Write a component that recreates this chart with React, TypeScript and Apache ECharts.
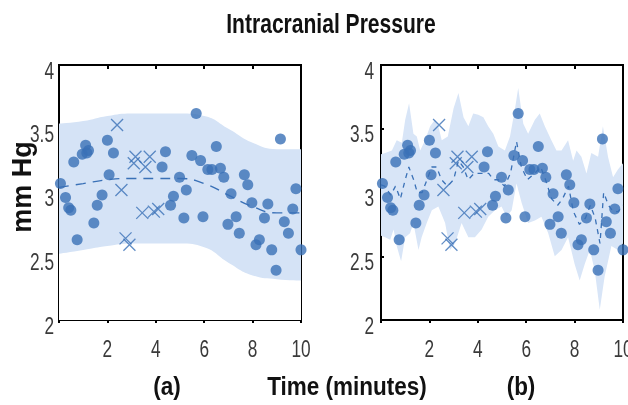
import React, { useEffect, useRef } from "react";
import * as echarts from "echarts";

// Observed data points (same in both panels)
const dotX = [0.06, 0.27, 0.4, 0.49, 0.61, 0.75, 0.96, 1.1, 1.15, 1.22, 1.44, 1.58, 1.78, 2.0, 2.07, 2.25, 4.26, 4.4, 4.61, 4.73, 4.98, 5.16, 5.26, 5.49, 5.67, 5.85, 5.95, 6.15, 6.32, 6.5, 6.67, 6.81, 6.98, 7.11, 7.32, 7.45, 7.66, 7.8, 7.97, 8.14, 8.28, 8.49, 8.63, 8.79, 8.97, 9.15, 9.31, 9.48, 9.66, 9.79, 10.0];
const dotY = [3.07, 2.96, 2.88, 2.86, 3.24, 2.63, 3.30, 3.37, 3.31, 3.33, 2.76, 2.90, 2.98, 3.41, 3.14, 3.31, 3.20, 3.32, 2.90, 2.97, 3.12, 2.80, 3.02, 3.29, 3.62, 3.25, 2.81, 3.18, 3.18, 3.36, 3.19, 3.12, 2.75, 2.99, 2.81, 2.68, 3.14, 3.06, 2.92, 2.59, 2.63, 2.80, 2.91, 2.55, 2.39, 3.42, 2.77, 2.68, 2.87, 3.03, 2.55];

// Crosses (held-out points)
const crossX = [2.4, 2.58, 2.75, 2.91, 3.09, 3.16, 3.44, 3.57, 3.75, 3.92, 4.1];
const crossY = [3.53, 3.02, 2.64, 2.59, 3.23, 3.28, 2.84, 3.20, 3.28, 2.85, 2.87];

// Panel (a): smooth fit
const fitAX = [0, 1, 2, 3, 4, 5, 6, 7, 8, 9, 10];
const fitAMean = [3.04, 3.07, 3.10, 3.11, 3.11, 3.11, 3.07, 2.98, 2.89, 2.84, 2.84];
const fitAUpper = [3.54, 3.56, 3.60, 3.62, 3.62, 3.62, 3.60, 3.50, 3.39, 3.34, 3.34];
const fitALower = [2.52, 2.55, 2.58, 2.60, 2.60, 2.60, 2.57, 2.45, 2.35, 2.32, 2.31];

// Panel (b): jagged fit
const bandBUpX = [0.0, 0.17, 0.45, 0.65, 0.86, 1.0, 1.16, 1.34, 1.48, 1.62, 1.82, 2.03, 2.23, 2.37, 2.51, 2.76, 3.0, 3.2, 3.41, 3.61, 3.81, 4.02, 4.23, 4.43, 4.64, 4.85, 5.12, 5.33, 5.53, 5.67, 5.88, 6.08, 6.36, 6.56, 6.77, 7.04, 7.25, 7.46, 7.73, 7.94, 8.08, 8.28, 8.49, 8.69, 8.97, 9.17, 9.38, 9.59, 9.79, 10.0];
const bandBUp = [3.30, 3.31, 3.33, 3.41, 3.39, 3.57, 3.70, 3.46, 3.44, 3.33, 3.41, 3.52, 3.57, 3.52, 3.41, 3.44, 3.66, 3.78, 3.59, 3.52, 3.62, 3.61, 3.59, 3.52, 3.46, 3.36, 3.33, 3.44, 3.65, 3.82, 3.54, 3.46, 3.57, 3.62, 3.52, 3.41, 3.33, 3.33, 3.41, 3.25, 3.33, 3.28, 3.15, 3.31, 3.28, 3.52, 3.28, 3.12, 3.18, 3.23];
const bandBLoX = [0.0, 0.17, 0.38, 0.52, 0.65, 0.83, 1.0, 1.2, 1.34, 1.55, 1.68, 1.89, 2.1, 2.37, 2.65, 2.85, 3.06, 3.33, 3.61, 3.88, 4.16, 4.43, 4.71, 4.98, 5.19, 5.4, 5.6, 5.81, 6.08, 6.36, 6.63, 6.91, 7.18, 7.46, 7.73, 8.0, 8.21, 8.42, 8.63, 8.83, 9.04, 9.24, 9.52, 9.79, 10.0];
const bandBLo = [2.66, 2.65, 2.63, 2.71, 2.58, 2.46, 2.65, 2.68, 2.76, 2.55, 2.65, 2.76, 2.86, 2.89, 2.76, 2.55, 2.60, 2.76, 2.65, 2.65, 2.71, 2.81, 2.86, 2.89, 2.81, 2.86, 3.07, 2.92, 2.76, 2.78, 2.81, 2.68, 2.50, 2.55, 2.65, 2.44, 2.31, 2.44, 2.55, 2.39, 2.08, 2.34, 2.58, 2.55, 2.60];
const meanBX = [0.0, 0.15, 0.4, 0.6, 0.8, 1.0, 1.15, 1.35, 1.5, 1.7, 1.9, 2.1, 2.3, 2.5, 2.75, 3.0, 3.2, 3.4, 3.6, 3.85, 4.05, 4.25, 4.45, 4.65, 4.85, 5.1, 5.35, 5.6, 5.8, 6.05, 6.35, 6.6, 6.8, 7.05, 7.3, 7.5, 7.75, 7.95, 8.2, 8.45, 8.65, 8.85, 9.05, 9.2, 9.4, 9.6, 9.8, 10.0];
const meanBY = [3.06, 3.05, 2.98, 3.05, 2.95, 3.10, 3.20, 3.10, 3.00, 3.00, 3.10, 3.20, 3.20, 3.10, 3.05, 3.10, 3.25, 3.20, 3.10, 3.15, 3.15, 3.15, 3.15, 3.10, 3.10, 3.05, 3.15, 3.40, 3.20, 3.10, 3.15, 3.20, 3.10, 2.95, 2.90, 2.95, 3.05, 2.85, 2.75, 2.80, 2.90, 2.80, 2.60, 3.00, 2.90, 2.85, 2.85, 2.90];

// Tick labels
const xTickLabels = [2, 4, 6, 8, 10];
const yTickLabels = [2, 2.5, 3, 3.5, 4];

const yRange = { min: 2, max: 4, interval: 0.5 };
const xRange = { min: 0, max: 10, interval: 2 };

const BLUE = "#3a71b7";
const BAND = "#d5e3f6";
const BANDB = "#d8e5f7";
const SANS = "'Liberation Sans', Arial, sans-serif";

const pairs = (xs: number[], ys: number[]) => xs.map((x, i) => [x, ys[i]]);

export default function App() {
  const ref = useRef<HTMLDivElement>(null);
  useEffect(() => {
    if (!ref.current) return;
    const chart = echarts.init(ref.current, null, { renderer: "svg" });

    const grids = [
      { left: 59, top: 65, width: 242, height: 255 },
      { left: 381, top: 65, width: 242, height: 255 },
    ].map((g) => ({ ...g, show: true, borderColor: "#000", borderWidth: 2, backgroundColor: "transparent" }));

    const tickStyle = { color: "#000", width: 2 };
    const xAxes: any[] = [];
    const yAxes: any[] = [];
    [0, 1].forEach((gi) => {
      xAxes.push({
        gridIndex: gi, type: "value", position: "bottom", ...xRange,
        axisLine: { show: false }, splitLine: { show: false }, axisLabel: { show: false },
        axisTick: { show: true, inside: false, length: 3, lineStyle: tickStyle },
      });
      xAxes.push({
        gridIndex: gi, type: "value", position: "top", ...xRange,
        axisLine: { show: false }, splitLine: { show: false }, axisLabel: { show: false },
        axisTick: { show: true, inside: true, length: 4, lineStyle: tickStyle },
      });
      yAxes.push({
        gridIndex: gi, type: "value", position: "left", ...yRange,
        axisLine: { show: false }, axisTick: { show: false }, splitLine: { show: false }, axisLabel: { show: false },
      });
      yAxes.push({
        gridIndex: gi, type: "value", position: "right", ...yRange,
        axisLine: { show: false }, splitLine: { show: false }, axisLabel: { show: false },
        axisTick: { show: true, inside: false, length: 3, lineStyle: tickStyle },
      });
    });

    const crossSymbol = "path://M0,0L10,10M10,0L0,10";

    const pointsSeries = (gi: number) => [
      {
        type: "scatter", xAxisIndex: gi * 2, yAxisIndex: gi * 2, data: pairs(dotX, dotY),
        symbol: "circle", symbolSize: 11, itemStyle: { color: BLUE }, z: 5,
      },
      {
        type: "scatter", xAxisIndex: gi * 2, yAxisIndex: gi * 2, data: pairs(crossX, crossY),
        symbol: crossSymbol, symbolSize: 12, itemStyle: { color: "none", borderColor: BLUE, borderWidth: 1.3 }, z: 5,
      },
    ];

    const option: any = {
      animation: false,
      grid: grids,
      xAxis: xAxes,
      yAxis: yAxes,
      series: [
        // panel (a) band: upper area filled, lower area masked with white
        {
          type: "line", xAxisIndex: 0, yAxisIndex: 0, smooth: true, symbol: "none", silent: true,
          data: pairs(fitAX, fitAUpper), lineStyle: { opacity: 0 }, areaStyle: { color: BAND, opacity: 1, origin: "start" }, z: 1,
        },
        {
          type: "line", xAxisIndex: 0, yAxisIndex: 0, smooth: true, symbol: "none", silent: true,
          data: pairs(fitAX, fitALower), lineStyle: { opacity: 0 }, areaStyle: { color: "#fff", opacity: 1, origin: "start" }, z: 1,
        },
        {
          type: "line", xAxisIndex: 0, yAxisIndex: 0, smooth: true, symbol: "none",
          data: pairs(fitAX, fitAMean), lineStyle: { color: BLUE, width: 1.4, type: [10, 7] }, z: 3,
        },
        ...pointsSeries(0),
        // panel (b) jagged band polygon
        {
          type: "custom", xAxisIndex: 2, yAxisIndex: 2, clip: true, silent: true, data: [[5, 3]], z: 1,
          renderItem: (_p: any, api: any) => {
            const pts: number[][] = [];
            bandBUpX.forEach((x, i) => pts.push(api.coord([x, bandBUp[i]])));
            for (let i = bandBLoX.length - 1; i >= 0; i--) pts.push(api.coord([bandBLoX[i], bandBLo[i]]));
            return { type: "polygon", shape: { points: pts }, style: { fill: BANDB } };
          },
        },
        {
          type: "line", xAxisIndex: 2, yAxisIndex: 2, symbol: "none",
          data: pairs(meanBX, meanBY), lineStyle: { color: BLUE, width: 1.3, type: [5, 5] }, z: 3,
        },
        ...pointsSeries(1),
      ],
    };
    chart.setOption(option);

    // Tick labels placed through the axes' own scales, drawn with a condensed look
    const labelStyle = (text: string, align: string) => ({
      text, font: `24px ${SANS}`, fill: "#3a3a3a", align, verticalAlign: "middle",
    });
    const graphics: any[] = [];
    [0, 1].forEach((gi) => {
      const yBottom = chart.convertToPixel({ yAxisIndex: gi * 2 }, 2) as number;
      const xLeft = chart.convertToPixel({ xAxisIndex: gi * 2 }, 0) as number;
      xTickLabels.forEach((v) => {
        const px = chart.convertToPixel({ xAxisIndex: gi * 2 }, v) as number;
        graphics.push({ type: "text", x: px, y: yBottom + 28, scaleX: 0.72, style: labelStyle(String(v), "center"), z: 20 });
      });
      yTickLabels.forEach((v) => {
        const py = chart.convertToPixel({ yAxisIndex: gi * 2 }, v) as number;
        graphics.push({ type: "text", x: xLeft - (gi === 0 ? 5 : 7), y: py + 5, scaleX: 0.72, style: labelStyle(String(v), "right"), z: 20 });
      });
    });
    const bold = (size: number) => `bold ${size}px ${SANS}`;
    graphics.push(
      { type: "text", x: 331, y: 24, scaleX: 0.78, style: { text: "Intracranial Pressure", font: bold(27), fill: "#111", align: "center", verticalAlign: "middle" } },
      { type: "text", x: 22, y: 187, rotation: Math.PI / 2, style: { text: "mm Hg", font: bold(27), fill: "#111", align: "center", verticalAlign: "middle" } },
      { type: "text", x: 167, y: 386, scaleX: 0.9, style: { text: "(a)", font: bold(25), fill: "#111", align: "center", verticalAlign: "middle" } },
      { type: "text", x: 347, y: 386, scaleX: 0.9, style: { text: "Time (minutes)", font: bold(25), fill: "#111", align: "center", verticalAlign: "middle" } },
      { type: "text", x: 521, y: 386, scaleX: 0.9, style: { text: "(b)", font: bold(25), fill: "#111", align: "center", verticalAlign: "middle" } },
    );
    chart.setOption({ graphic: graphics });
    return () => chart.dispose();
  }, []);
  return <div ref={ref} style={{ position: "fixed", left: 0, top: 0, width: 628, height: 405 }} />;
}
